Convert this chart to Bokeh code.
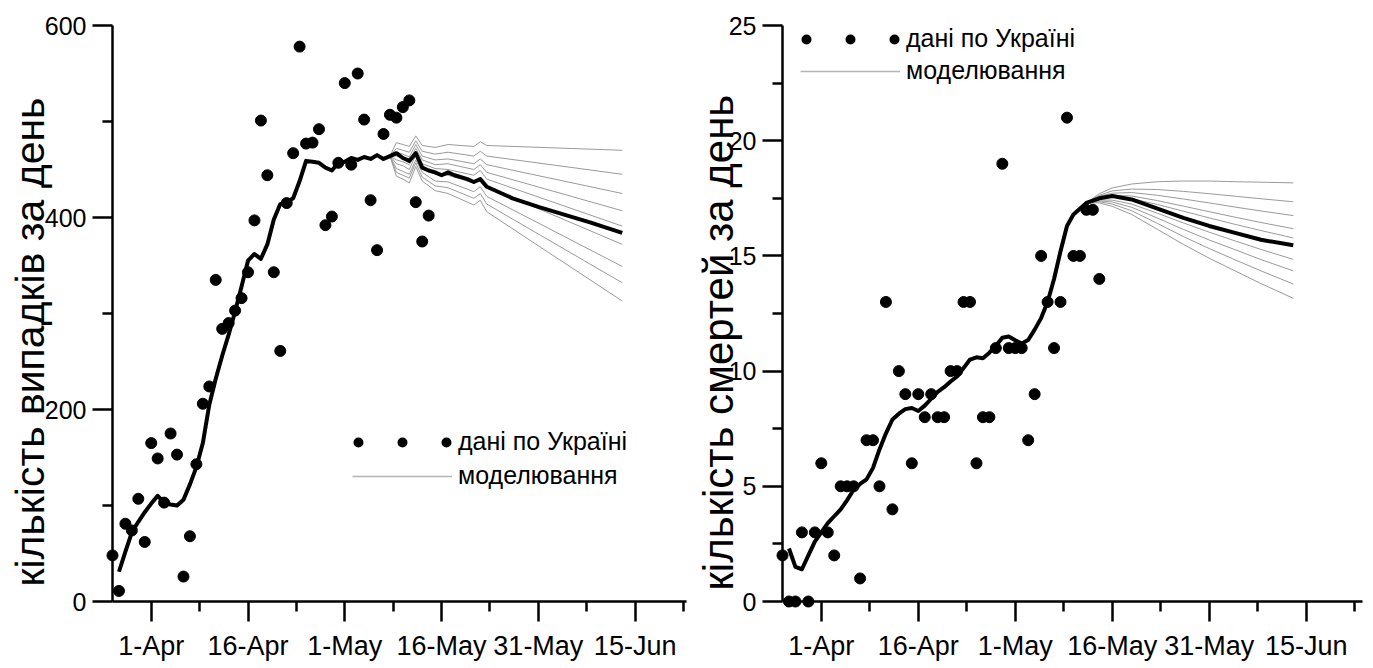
import pandas as pd
from bokeh.plotting import figure
from bokeh.layouts import row
from bokeh.models import (Range1d, FixedTicker, DatetimeTickFormatter, Legend,
                          LegendItem, Title)
from bokeh.embed import file_html
from bokeh.resources import INLINE

# ---------------- data ----------------
START_DATE = "2020-03-26"          # first day of reported data (day 0)

tick_dates = ["2020-04-01", "2020-04-16", "2020-05-01", "2020-05-16",
              "2020-05-31", "2020-06-15"]
minor_tick_dates = ["2020-04-08 12:00", "2020-04-23 12:00", "2020-05-08 12:00",
                    "2020-05-23 12:00", "2020-06-07 12:00", "2020-06-22 12:00"]

# daily new cases in Ukraine (one value per day from START_DATE)
cases = [48, 11, 81, 74, 107, 62, 165, 149, 103, 175, 153, 26, 68, 143, 206, 224,
         335, 284, 290, 303, 316, 343, 397, 501, 444, 343, 261, 415, 467, 578, 477,
         478, 492, 392, 401, 457, 540, 455, 550, 502, 418, 366, 487, 507, 504, 515,
         522, 416, 375, 402]

# model curve for cases (day offset from START_DATE, value)
cases_model_day = [1, 2, 3, 4, 5, 6, 7, 8, 9, 10, 11, 12, 13, 14, 15, 16, 17, 18, 19,
                   20, 21, 22, 23, 24, 25, 26, 27, 28, 29, 30, 31, 32, 33, 34, 35, 36,
                   37, 38, 39, 40, 41, 42, 43, 44, 45, 46, 47, 48, 49, 50, 51, 52, 53,
                   54, 55, 56, 57, 58, 62, 66, 70, 74, 79]
cases_model = [31, 52, 72, 83, 93, 102, 110, 103, 101, 100, 106, 122, 140, 165, 205,
               232, 256, 278, 302, 328, 355, 362, 357, 372, 398, 414, 416, 420, 438,
               459, 458, 457, 452, 449, 457, 458, 462, 460, 463, 461, 465, 461, 464,
               467, 462, 459, 467, 452, 449, 447, 444, 447, 444, 442, 440, 437, 440,
               432, 420, 411, 403, 395, 384]

# scenario curves for cases
cases_scen_day = [43, 44, 45, 46, 47, 48, 50, 52, 56, 57, 58, 79]
cases_scen_1 = [464, 478, 476, 474, 485, 475, 473, 476, 474, 479, 475, 470]
cases_scen_2 = [464, 472, 470, 468, 480, 469, 466, 468, 464, 469, 464, 445]
cases_scen_3 = [464, 468, 466, 463, 476, 464, 460, 461, 456, 461, 455, 425]
cases_scen_4 = [464, 464, 462, 459, 472, 460, 455, 456, 450, 455, 447, 407]
cases_scen_5 = [464, 460, 458, 455, 469, 456, 451, 450, 444, 449, 440, 391]
cases_scen_6 = [464, 456, 454, 450, 465, 452, 445, 444, 436, 441, 432, 372]
cases_scen_7 = [464, 451, 448, 445, 460, 447, 438, 437, 427, 432, 422, 349]
cases_scen_8 = [464, 447, 444, 441, 457, 442, 433, 431, 420, 425, 414, 332]
cases_scen_9 = [464, 443, 440, 436, 453, 438, 428, 425, 413, 418, 406, 313]

# daily deaths in Ukraine (one value per day from START_DATE)
deaths = [2, 0, 0, 3, 0, 3, 6, 3, 2, 5, 5, 5, 1, 7, 7, 5, 13, 4, 10, 9, 6, 9, 8, 9,
          8, 8, 10, 10, 13, 13, 6, 8, 8, 11, 19, 11, 11, 11, 7, 9, 15, 13, 11, 13, 21,
          15, 15, 17, 17, 14]

deaths_model_day = [1, 2, 3, 4, 5, 6, 7, 8, 9, 10, 11, 12, 13, 14, 15, 16, 17, 18, 19,
                    20, 21, 22, 23, 24, 25, 26, 27, 28, 29, 30, 31, 32, 33, 34, 35, 36,
                    37, 38, 39, 40, 41, 42, 43, 44, 45, 46, 47, 49, 51, 54, 58, 62, 66,
                    70, 74, 79]
deaths_model = [2.3, 1.5, 1.4, 2.0, 2.6, 3.0, 3.4, 3.7, 4.0, 4.4, 4.85, 5.1, 5.3, 5.8,
                6.6, 7.3, 7.9, 8.15, 8.35, 8.4, 8.27, 8.5, 8.8, 9.1, 9.3, 9.55, 9.77,
                10.13, 10.5, 10.6, 10.56, 10.8, 11.1, 11.45, 11.5, 11.34, 11.2, 11.35,
                11.8, 12.3, 13.0, 14.0, 15.2, 16.3, 16.8, 17.05, 17.3, 17.5, 17.6,
                17.45, 17.05, 16.65, 16.3, 16.0, 15.7, 15.46]

deaths_scen_day = [47, 49, 51, 54, 58, 62, 66, 70, 74, 79]
deaths_scen_1 = [17.3, 17.7, 17.95, 18.12, 18.22, 18.25, 18.25, 18.22, 18.2, 18.17]
deaths_scen_2 = [17.3, 17.63, 17.82, 17.9, 17.88, 17.8, 17.7, 17.59, 17.48, 17.35]
deaths_scen_3 = [17.3, 17.59, 17.72, 17.75, 17.63, 17.47, 17.3, 17.12, 16.95, 16.75]
deaths_scen_4 = [17.3, 17.54, 17.63, 17.6, 17.4, 17.16, 16.92, 16.68, 16.45, 16.18]
deaths_scen_5 = [17.3, 17.51, 17.57, 17.49, 17.23, 16.94, 16.65, 16.37, 16.1, 15.78]
deaths_scen_6 = [17.3, 17.43, 17.42, 17.25, 16.85, 16.43, 16.03, 15.65, 15.28, 14.85]
deaths_scen_7 = [17.3, 17.39, 17.34, 17.11, 16.64, 16.15, 15.69, 15.27, 14.84, 14.35]
deaths_scen_8 = [17.3, 17.35, 17.25, 16.96, 16.41, 15.84, 15.32, 14.83, 14.35, 13.78]
deaths_scen_9 = [17.3, 17.3, 17.15, 16.8, 16.15, 15.5, 14.9, 14.35, 13.8, 13.16]

label_cases_axis = "кількість випадків за день"
label_deaths_axis = "кількість смертей за день"
legend_data = "дані по Україні"
legend_model = "моделювання"

# ---------------- helpers ----------------
FONT = "Liberation Sans"
SCEN_COLOR = "#9a9a9a"
NAN = float("nan")


def ms(s):
    return pd.Timestamp(s).value / 1e6


def day_dates(days):
    return pd.Timestamp(START_DATE) + pd.to_timedelta(days, unit="D")


def style_axes(p, yticks, yminor):
    p.outline_line_color = None
    p.xgrid.visible = False
    p.ygrid.visible = False
    xa = p.xaxis[0]
    ya = p.yaxis[0]
    xa.ticker = FixedTicker(ticks=[ms(d) for d in tick_dates],
                            minor_ticks=[ms(d) for d in minor_tick_dates])
    xa.formatter = DatetimeTickFormatter(days="%-d-%b", months="%-d-%b",
                                         years="%-d-%b")
    ya.ticker = FixedTicker(ticks=yticks, minor_ticks=yminor)
    for ax in (xa, ya):
        ax.axis_line_color = "black"
        ax.axis_line_width = 2.5
        ax.major_tick_line_color = "black"
        ax.minor_tick_line_color = "black"
        ax.major_tick_line_width = 2.5
        ax.minor_tick_line_width = 2.5
        ax.major_tick_out = 20
        ax.major_tick_in = 0
        ax.minor_tick_out = 10
        ax.minor_tick_in = 0
        ax.major_label_text_font = FONT
        ax.major_label_text_color = "black"
    xa.major_label_text_font_size = "27px"
    ya.major_label_text_font_size = "25px"
    xa.major_label_standoff = 9
    ya.major_label_standoff = 6


def add_side_title(p, text, offset, standoff, size):
    t = Title(text=text, align="left", offset=offset, vertical_align="bottom",
              standoff=standoff, text_font=FONT, text_font_size=size,
              text_font_style="normal", text_color="black")
    p.add_layout(t, "left")


def add_legend(p, loc, spacing):
    x0 = [pd.Timestamp(START_DATE)]
    r_pts = p.line(x=x0, y=[NAN], line_color="black", line_width=10,
                   line_cap="round", line_dash="0 44", line_dash_offset=38)
    r_mod = p.line(x=x0, y=[NAN], line_color="#b5b5b5", line_width=1.5)
    leg = Legend(items=[LegendItem(label=legend_data, renderers=[r_pts]),
                        LegendItem(label=legend_model, renderers=[r_mod])],
                 location=loc, glyph_width=100, glyph_height=28, label_height=28,
                 spacing=spacing, label_standoff=6, padding=0, margin=0,
                 border_line_color=None, background_fill_alpha=0,
                 label_text_font=FONT, label_text_font_size="25px",
                 label_text_color="black")
    p.add_layout(leg)


# ---------------- left: cases ----------------
left = figure(width=692, height=668, x_axis_type="datetime",
              x_range=Range1d(ms(START_DATE), ms("2020-06-22 23:00")),
              y_range=Range1d(0, 600), output_backend="svg",
              toolbar_location=None, min_border_left=112, min_border_right=6,
              min_border_top=25, min_border_bottom=61)
left.background_fill_color = "white"
left.border_fill_color = "white"

for s in [cases_scen_1, cases_scen_2, cases_scen_3, cases_scen_4, cases_scen_5,
          cases_scen_6, cases_scen_7, cases_scen_8, cases_scen_9]:
    left.line(day_dates(cases_scen_day), s, line_color=SCEN_COLOR, line_width=1)
left.line(day_dates(cases_model_day), cases_model, line_color="black",
          line_width=4, line_join="round")
left.scatter(day_dates(list(range(len(cases)))), cases, size=11, color="black",
             level="overlay")
style_axes(left, [0, 200, 400, 600], [100, 300, 500])
add_side_title(left, label_cases_axis, 15, -23, "41px")
add_legend(left, (240, 111), 5)

# ---------------- right: deaths ----------------
right = figure(width=681, height=668, x_axis_type="datetime",
               x_range=Range1d(ms(START_DATE), ms("2020-06-23 17:00")),
               y_range=Range1d(0, 25), output_backend="svg",
               toolbar_location=None, min_border_left=90, min_border_right=11,
               min_border_top=18, min_border_bottom=67)
right.background_fill_color = "white"
right.border_fill_color = "white"

for s in [deaths_scen_1, deaths_scen_2, deaths_scen_3, deaths_scen_4, deaths_scen_5,
          deaths_scen_6, deaths_scen_7, deaths_scen_8, deaths_scen_9]:
    right.line(day_dates(deaths_scen_day), s, line_color=SCEN_COLOR, line_width=1)
right.line(day_dates(deaths_model_day), deaths_model, line_color="black",
           line_width=4, line_join="round")
right.scatter(day_dates(list(range(len(deaths)))), deaths, size=11, color="black",
              level="overlay")
style_axes(right, [0, 5, 10, 15, 20, 25], [2.5, 7.5, 12.5, 17.5, 22.5])
add_side_title(right, label_deaths_axis, 11, -32, "42px")
add_legend(right, (18, 516), 3)

layout = row(left, right)
open("out.html", "w").write(file_html(layout, INLINE))
